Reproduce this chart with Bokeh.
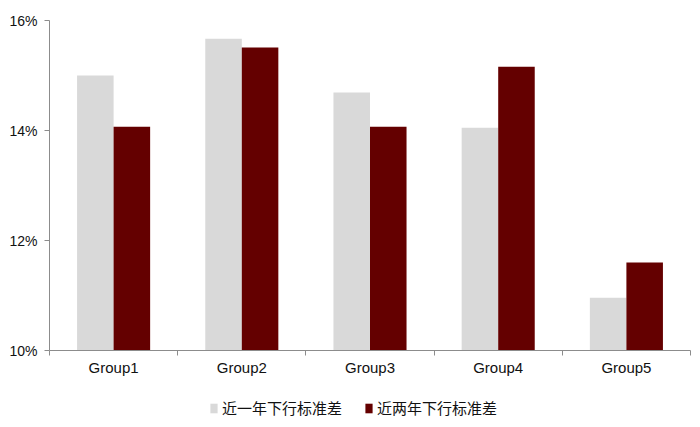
from bokeh.plotting import figure
from bokeh.models import ColumnDataSource, FixedTicker, Legend, LegendItem
from bokeh.layouts import column
from bokeh.embed import file_html
from bokeh.resources import INLINE

groups = ['Group1', 'Group2', 'Group3', 'Group4', 'Group5']
one_year = [15.0, 15.67, 14.69, 14.05, 10.96]
two_year = [14.07, 15.51, 14.07, 15.16, 11.6]
y_ticks = [10, 12, 14, 16]
series_names = ['近一年下行标准差', '近两年下行标准差']

light = '#D9D9D9'
dark = '#640000'
bar_w = 0.285

centers = [i + 0.5 for i in range(len(groups))]
src = ColumnDataSource(data=dict(
    x1=[c - bar_w / 2 for c in centers],
    x2=[c + bar_w / 2 for c in centers],
    one=one_year,
    two=two_year,
))

p = figure(width=698, height=385, x_range=(0, len(groups)), y_range=(10, 16),
           output_backend="svg", toolbar_location=None, tools="")
p.min_border_left = 49
p.min_border_top = 20
p.min_border_right = 8
p.min_border_bottom = 35
p.outline_line_color = None
p.grid.grid_line_color = None

p.vbar(x='x1', top='one', bottom=10, width=bar_w, source=src,
       fill_color=light, line_color=None)
p.vbar(x='x2', top='two', bottom=10, width=bar_w, source=src,
       fill_color=dark, line_color=None)

# y axis
p.yaxis.ticker = FixedTicker(ticks=y_ticks)
p.yaxis.major_label_overrides = {t: f'{t}%' for t in y_ticks}
p.yaxis.major_tick_in = 0
p.yaxis.major_tick_out = 5

# x axis: labels at centres, ticks at boundaries
p.xaxis.ticker = FixedTicker(ticks=centers, minor_ticks=list(range(len(groups) + 1)))
p.xaxis.major_label_overrides = {c: g for c, g in zip(centers, groups)}
p.xaxis.major_tick_in = 0
p.xaxis.major_tick_out = 0
p.xaxis.minor_tick_in = 0
p.xaxis.minor_tick_out = 5

for ax in (p.xaxis, p.yaxis):
    ax.axis_line_color = '#8C8C8C'
    ax.major_tick_line_color = '#8C8C8C'
    ax.minor_tick_line_color = '#8C8C8C'
    ax.major_label_text_font = 'Liberation Sans'
    ax.major_label_text_color = '#111111'
p.yaxis.minor_tick_line_color = None
p.yaxis.major_label_text_font_size = '14px'
p.yaxis.major_label_standoff = 7
p.xaxis.major_label_text_font_size = '15px'
p.xaxis.major_label_standoff = 3

# legend lives in a thin strip below the chart (its frame aligns with the chart's)
leg = figure(width=698, height=38, x_range=(0, 1), y_range=(0, 1),
             output_backend="svg", toolbar_location=None, tools="",
             x_axis_location=None, y_axis_location=None)
leg.min_border = 0
leg.outline_line_color = None
leg.grid.grid_line_color = None
# zero-size marks, only so that the legend swatches draw
hidden = ColumnDataSource(data=dict(x=[0.5], top=[0]))
g1 = leg.vbar(x='x', top='top', bottom=0, width=0, source=hidden, fill_color=light, line_color=None)
g2 = leg.vbar(x='x', top='top', bottom=0, width=0, source=hidden, fill_color=dark, line_color=None)

legend = Legend(items=[LegendItem(label=series_names[0], renderers=[g1]),
                       LegendItem(label=series_names[1], renderers=[g2])],
                orientation='horizontal', location=(160, 5))
legend.border_line_color = None
legend.background_fill_alpha = 0
legend.label_text_font = 'Noto Sans CJK SC'
legend.label_text_font_size = '15px'
legend.label_text_color = '#111111'
legend.glyph_width = 9
legend.glyph_height = 12
legend.label_standoff = 4
legend.spacing = 22
legend.padding = 4
legend.margin = 0
leg.add_layout(legend)

open("out.html", "w").write(file_html(column(p, leg), INLINE))
